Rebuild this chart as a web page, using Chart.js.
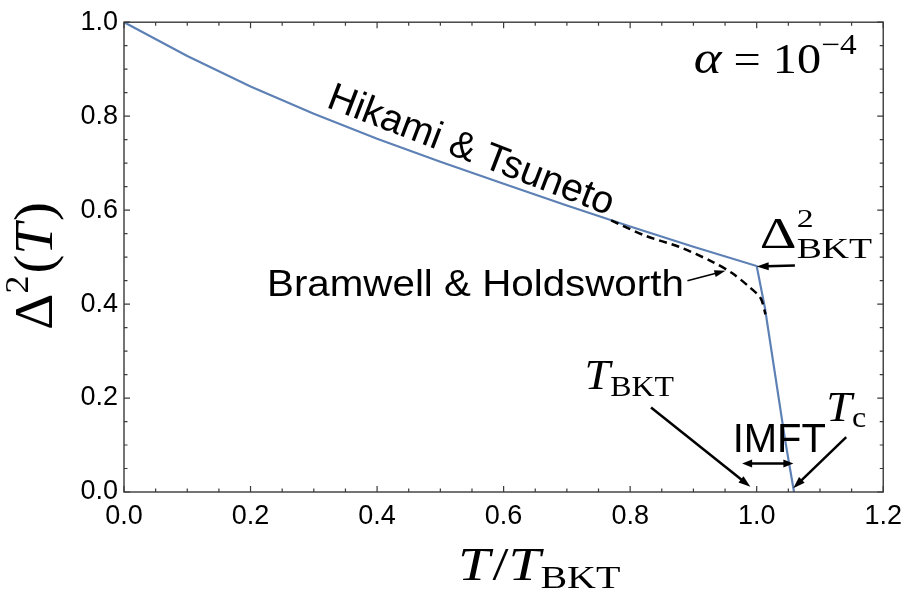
<!DOCTYPE html>
<html>
<head>
<meta charset="utf-8">
<script src="https://cdn.jsdelivr.net/npm/chart.js@4"></script>
<style>
  body { margin: 0; background: #fff; }
  #wrap { width: 910px; height: 597px; }
</style>
</head>
<body>
<div id="wrap"><canvas id="chart"></canvas></div>
<script>
// Hikami & Tsuneto curve (solid blue)
const htT = [0, 0.1, 0.2, 0.3, 0.4, 0.5, 0.6, 0.7, 0.8, 0.9, 1.0, 1.013, 1.029, 1.045, 1.059];
const htD = [1.0, 0.928, 0.863, 0.805, 0.752, 0.703, 0.656, 0.610, 0.565, 0.522, 0.481, 0.392, 0.251, 0.110, 0.0];

// Bramwell & Holdsworth curve (dashed black)
const bhT = [0.77, 0.825, 0.877, 0.93, 0.961, 0.987, 1.006, 1.014];
const bhD = [0.578, 0.545, 0.522, 0.490, 0.466, 0.438, 0.413, 0.378];

// tick values
const xTicks = [0, 0.2, 0.4, 0.6, 0.8, 1.0, 1.2];
const yTicks = [0, 0.2, 0.4, 0.6, 0.8, 1.0];

const toXY = (xs, ys) => xs.map((x, i) => ({ x: x, y: ys[i] }));

const SANS = '"Liberation Sans", Arial, sans-serif';
const SERIF = '"Liberation Serif", "Times New Roman", serif';

function arrow(ctx, x1, y1, x2, y2, lw, hl, hw, both) {
  ctx.save();
  ctx.strokeStyle = '#000';
  ctx.fillStyle = '#000';
  ctx.lineWidth = lw;
  const a = Math.atan2(y2 - y1, x2 - x1);
  const head = (x, y, ang) => {
    ctx.beginPath();
    ctx.moveTo(x, y);
    ctx.lineTo(x - hl * Math.cos(ang) + hw * Math.sin(ang), y - hl * Math.sin(ang) - hw * Math.cos(ang));
    ctx.lineTo(x - hl * Math.cos(ang) - hw * Math.sin(ang), y - hl * Math.sin(ang) + hw * Math.cos(ang));
    ctx.closePath();
    ctx.fill();
  };
  ctx.beginPath();
  const sx = both ? x1 + hl * 0.8 * Math.cos(a) : x1;
  const sy = both ? y1 + hl * 0.8 * Math.sin(a) : y1;
  ctx.moveTo(sx, sy);
  ctx.lineTo(x2 - hl * 0.8 * Math.cos(a), y2 - hl * 0.8 * Math.sin(a));
  ctx.stroke();
  head(x2, y2, a);
  if (both) head(x1, y1, a + Math.PI);
  ctx.restore();
}

// draw text pieces relative to an origin, with optional stretch and rotation
function pieces(ctx, x, y, list, sx, rot) {
  ctx.save();
  ctx.translate(x, y);
  if (rot) ctx.rotate(rot);
  ctx.scale(sx || 1, 1);
  ctx.fillStyle = '#000';
  ctx.textBaseline = 'alphabetic';
  ctx.textAlign = 'left';
  let cx = 0;
  list.forEach(p => {
    ctx.font = p.f;
    const px = cx + (p.dx || 0);
    ctx.fillText(p.t, px, p.y || 0);
    if (!p.stay) cx = px + ctx.measureText(p.t).width;
  });
  ctx.restore();
}

const decor = {
  id: 'decor',
  afterDraw(chart) {
    const ctx = chart.ctx;
    const a = chart.chartArea;
    const xs = chart.scales.x, ys = chart.scales.y;
    const X = v => xs.getPixelForValue(v);
    const Y = v => ys.getPixelForValue(v);

    // frame and inward ticks
    ctx.save();
    ctx.strokeStyle = '#3a3a3a';
    ctx.lineWidth = 1.4;
    ctx.strokeRect(a.left, a.top, a.right - a.left, a.bottom - a.top);
    ctx.lineWidth = 1.2;
    ctx.beginPath();
    for (let i = 0; i <= 24; i++) {
      const v = i * 0.05;
      const len = (i % 4 === 0) ? 6 : 3.5;
      const px = X(v);
      ctx.moveTo(px, a.bottom); ctx.lineTo(px, a.bottom - len);
      ctx.moveTo(px, a.top); ctx.lineTo(px, a.top + len);
    }
    for (let i = 0; i <= 20; i++) {
      const v = i * 0.05;
      const len = (i % 4 === 0) ? 6 : 3.5;
      const py = Y(v);
      ctx.moveTo(a.left, py); ctx.lineTo(a.left + len, py);
      ctx.moveTo(a.right, py); ctx.lineTo(a.right - len, py);
    }
    ctx.stroke();
    ctx.restore();

    // alpha = 10^-4
    pieces(ctx, X(0.9004), Y(0.892), [
      { t: 'α', f: 'italic 46px ' + SERIF },
      { t: ' = ', f: '42px ' + SERIF },
      { t: '10', f: '42px ' + SERIF },
      { t: '−4', f: '29px ' + SERIF, y: -19 }
    ], 1.15);

    // Hikami & Tsuneto (rotated along the curve)
    pieces(ctx, X(0.318), Y(0.82), [
      { t: 'Hikami & Tsuneto', f: '39px ' + SANS }
    ], 1, 21 * Math.PI / 180);

    // Bramwell & Holdsworth
    pieces(ctx, X(0.226), Y(0.4165), [
      { t: 'Bramwell & Holdsworth', f: '37px ' + SANS }
    ], 1.09);
    arrow(ctx, X(0.8905), Y(0.4497), X(0.9506), Y(0.4708), 1.5, 11, 3.5);

    // Delta^2_BKT
    pieces(ctx, X(1.005), Y(0.52), [
      { t: 'Δ', f: '44px ' + SERIF },
      { t: '2', f: '26px ' + SERIF, y: -21, stay: true },
      { t: 'BKT', f: '29px ' + SERIF, y: 10 }
    ], 1.3);
    arrow(ctx, X(1.0604), Y(0.482), X(1.0), Y(0.48), 2.5, 12, 4);

    // T_BKT
    pieces(ctx, X(0.728), Y(0.22), [
      { t: 'T', f: 'italic 42px ' + SERIF },
      { t: 'BKT', f: '29px ' + SERIF, y: 7 }
    ], 1.1);
    arrow(ctx, X(0.833), Y(0.180), X(0.990), Y(0.0112), 2.5, 12, 4);

    // T_c
    pieces(ctx, X(1.11), Y(0.152), [
      { t: 'T', f: 'italic 42px ' + SERIF },
      { t: 'c', f: '29px ' + SERIF, y: 6 }
    ], 1.1);
    arrow(ctx, X(1.1415), Y(0.117), X(1.0577), Y(0.0078), 2.5, 12, 4);

    // IMFT with double arrow
    pieces(ctx, X(0.962), Y(0.0846), [
      { t: 'IMFT', f: '40px ' + SANS }
    ], 1);
    arrow(ctx, X(0.977), Y(0.0607), X(1.058), Y(0.0607), 2.5, 10, 4, true);

    // axis titles
    pieces(ctx, 458, 580, [
      { t: 'T', f: 'italic 46px ' + SERIF },
      { t: '/', f: '46px ' + SERIF, dx: 2 },
      { t: 'T', f: 'italic 46px ' + SERIF },
      { t: 'BKT', f: '32px ' + SERIF, y: 8 }
    ], 1.25);
    pieces(ctx, 52, 330, [
      { t: 'Δ', f: '54px ' + SERIF },
      { t: '2', f: '34px ' + SERIF, y: -24 },
      { t: '(', f: '54px ' + SERIF, dx: 2 },
      { t: 'T', f: 'italic 54px ' + SERIF },
      { t: ')', f: '54px ' + SERIF, dx: 2 }
    ], 1.05, -Math.PI / 2);
  }
};

const tickFont = { family: SANS, size: 27 };

new Chart(document.getElementById('chart'), {
  type: 'line',
  data: {
    datasets: [
      {
        label: 'Bramwell & Holdsworth',
        data: toXY(bhT, bhD),
        borderColor: '#000',
        borderWidth: 2.5,
        borderDash: [8, 5],
        pointRadius: 0,
        tension: 0.3,
        fill: false
      },
      {
        label: 'Hikami & Tsuneto',
        data: toXY(htT, htD),
        borderColor: '#5E81B5',
        borderWidth: 2.2,
        pointRadius: 0,
        tension: 0,
        fill: false
      }
    ]
  },
  options: {
    responsive: true,
    maintainAspectRatio: false,
    animation: false,
    events: [],
    layout: { padding: { top: 19, right: 21, left: 0, bottom: 0 } },
    plugins: { legend: { display: false }, tooltip: { enabled: false } },
    scales: {
      x: {
        type: 'linear',
        min: 0, max: 1.2,
        grid: { display: false, drawTicks: false },
        border: { display: false },
        afterBuildTicks: s => { s.ticks = xTicks.map(v => ({ value: v })); },
        afterFit: s => { s.height = 105; },
        ticks: { font: tickFont, color: '#000', padding: 8, maxRotation: 0, callback: v => v.toFixed(1) }
      },
      y: {
        type: 'linear',
        min: 0, max: 1.0,
        grid: { display: false, drawTicks: false },
        border: { display: false },
        afterBuildTicks: s => { s.ticks = yTicks.map(v => ({ value: v })); },
        afterFit: s => { s.width = 124; },
        ticks: { font: tickFont, color: '#000', padding: 6, callback: v => v.toFixed(1) }
      }
    }
  },
  plugins: [decor]
});
</script>
</body>
</html>
